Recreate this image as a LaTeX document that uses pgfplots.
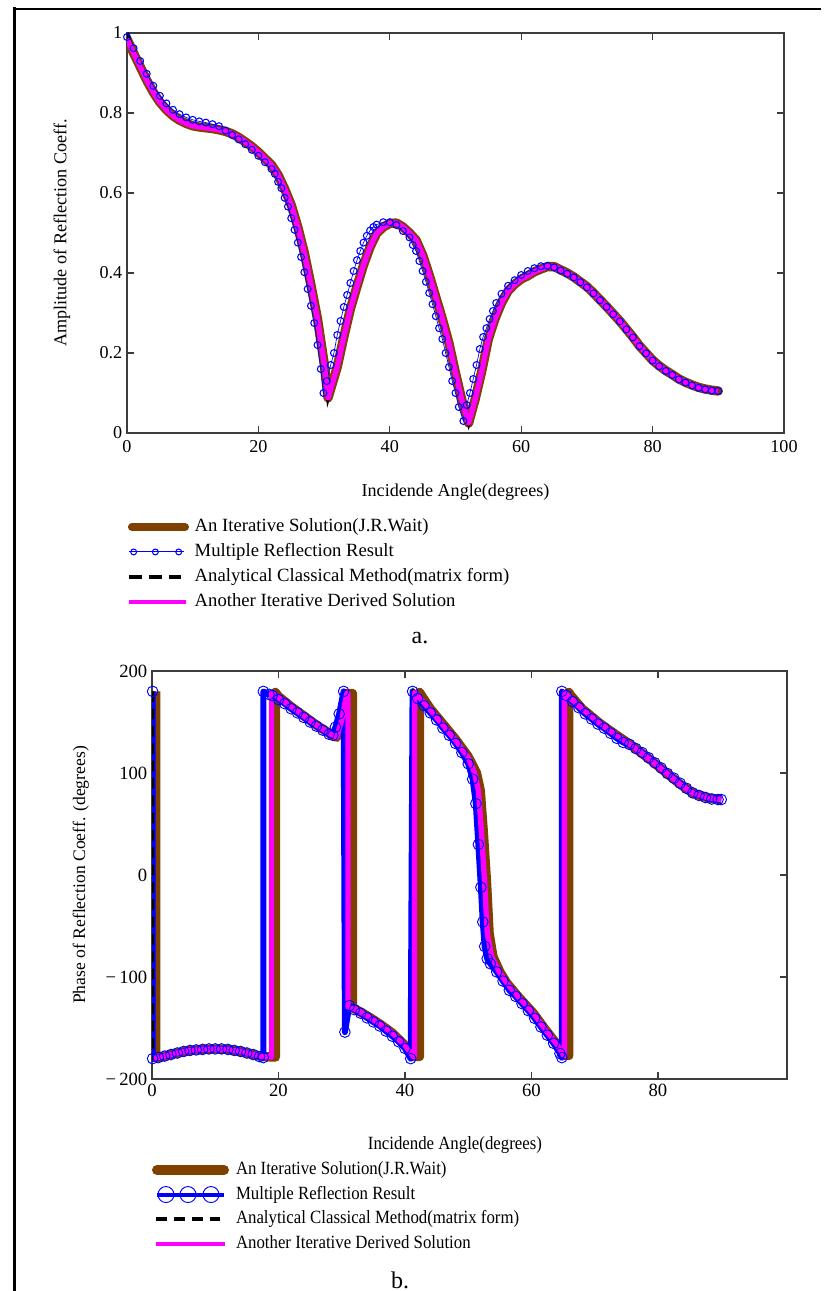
\documentclass[border=0pt]{standalone}
\usepackage{fontspec}
\setmainfont{Liberation Serif}
\newfontfamily\condfont{Liberation Serif}[FakeStretch=0.9]
\usepackage{pgfplots}
\usepackage{pgfplotstable}
\pgfplotsset{compat=1.18}
\definecolor{mcbrown}{RGB}{128,64,0}
\definecolor{mcblue}{RGB}{0,0,255}
\definecolor{mcmag}{RGB}{255,0,255}
\definecolor{axgray}{RGB}{60,60,60}

\pgfplotstableread{
x y
0 0.985
1 0.950
2 0.916
3 0.882
4 0.852
5 0.827
6 0.808
7 0.793
8 0.782
9 0.774
10 0.768
11 0.765
12 0.763
13 0.761
14 0.758
15 0.754
16 0.748
17 0.739
18 0.728
19 0.716
20 0.702
21 0.686
22 0.670
23 0.645
24 0.610
25 0.570
26 0.515
27 0.450
28 0.370
29 0.285
30 0.175
30.6 0.088
31 0.110
32 0.165
33 0.240
34 0.310
35 0.366
36 0.420
37 0.465
38 0.499
39 0.515
40 0.524
41 0.525
42 0.515
43 0.500
44 0.482
45 0.445
46 0.395
47 0.340
48 0.285
49 0.225
50 0.150
51 0.080
52 0.025
53 0.085
54 0.155
55 0.235
56 0.285
57 0.325
58 0.355
59 0.372
60 0.385
61 0.393
62 0.403
63 0.410
64 0.416
65 0.416
66 0.408
67 0.400
68 0.390
69 0.378
70 0.366
71 0.350
72 0.333
73 0.316
74 0.298
75 0.280
76 0.260
77 0.240
78 0.218
79 0.200
80 0.182
81 0.168
82 0.156
83 0.146
84 0.135
85 0.127
86 0.120
87 0.114
88 0.110
89 0.107
90 0.105
}\ampline

\pgfplotstableread{
x y
0 1.0
1 0.950
2 0.916
3 0.882
4 0.852
5 0.827
6 0.808
7 0.793
8 0.782
9 0.774
10 0.768
11 0.765
12 0.763
13 0.761
14 0.758
15 0.754
16 0.748
17 0.739
18 0.728
19 0.716
20 0.702
21 0.686
22 0.670
23 0.645
24 0.610
25 0.570
26 0.515
27 0.450
28 0.370
29 0.285
30 0.175
30.6 0.088
31 0.110
32 0.165
33 0.240
34 0.310
35 0.366
36 0.420
37 0.465
38 0.499
39 0.515
40 0.524
41 0.525
42 0.515
43 0.500
44 0.482
45 0.445
46 0.395
47 0.340
48 0.285
49 0.225
50 0.150
51 0.080
52 0.025
53 0.085
54 0.155
55 0.235
56 0.285
57 0.325
58 0.355
59 0.372
60 0.385
61 0.393
62 0.403
63 0.410
64 0.416
65 0.416
66 0.408
67 0.400
68 0.390
69 0.378
70 0.366
71 0.350
72 0.333
73 0.316
74 0.298
75 0.280
76 0.260
77 0.240
78 0.218
79 0.200
80 0.182
81 0.168
82 0.156
83 0.146
84 0.135
85 0.127
86 0.120
87 0.114
88 0.110
89 0.107
90 0.105
}\ampblack

\pgfplotstableread{
x y
0 0.990
1 0.962
2 0.930
3 0.898
4 0.868
5 0.843
6 0.824
7 0.808
8 0.797
9 0.789
10 0.783
11 0.779
12 0.776
13 0.772
14 0.767
15 0.756
16 0.745
17 0.734
18 0.722
19 0.708
20 0.693
21 0.677
22 0.660
22.5 0.648
23 0.628
23.5 0.612
24 0.588
24.5 0.566
25 0.537
25.5 0.508
26 0.476
26.5 0.440
27 0.402
27.5 0.360
28 0.318
28.5 0.275
29 0.220
29.5 0.160
29.9 0.100
30.4 0.130
31 0.170
31.5 0.200
32 0.245
32.5 0.280
33 0.315
33.5 0.345
34 0.375
34.5 0.405
35 0.432
35.5 0.455
36 0.476
36.5 0.493
37 0.506
37.5 0.515
38 0.521
39 0.527
40 0.527
41 0.520
42 0.505
43 0.489
43.5 0.470
44 0.455
44.5 0.430
45 0.405
45.5 0.378
46 0.350
46.5 0.322
47 0.292
47.5 0.262
48 0.235
48.5 0.200
49 0.165
49.5 0.130
50 0.100
50.5 0.065
51.2 0.030
51.7 0.070
52.2 0.100
52.7 0.135
53.2 0.170
53.7 0.210
54.2 0.240
54.7 0.262
55.2 0.285
55.7 0.305
56.2 0.325
57 0.348
58 0.368
59 0.382
60 0.395
61 0.405
62 0.412
63 0.417
64 0.418
65 0.414
66 0.406
67 0.398
68 0.389
69 0.377
70 0.364
71 0.349
72 0.332
73 0.315
74 0.297
75 0.279
76 0.259
77 0.239
78 0.217
79 0.199
80 0.181
81 0.167
82 0.155
83 0.145
84 0.134
85 0.126
86 0.119
87 0.113
88 0.109
89 0.106
90 0.105
}\ampblue

\pgfplotstableread{
x y
0.6 180
0.6 -179.5
1 -179
2 -177.5
4 -174.5
6 -172
8 -171
10 -170.5
12 -171
14 -173
16 -176
17.5 -178
19.5 -178.5
19.5 179
20 175
22 165
24 156
26 147
28 139
29.2 135
30 152
30.8 178
31.7 178
31.7 -130
32 -131
34 -138
36 -146
38 -155
40 -167
41.3 -178
42.3 -178
42.3 179
42.6 176
44 163
46 148
48 133
50 116
51.3 100
51.9 83
52.4 41
52.9 -8
53.3 -57
53.9 -80
55 -95
56.1 -106
58 -120
60.3 -135.6
62 -150
64 -166
65.1 -177
65.9 -177
65.9 179
66.2 176
68 163
70.8 148.7
73 139
76.1 125.8
79 112
81.4 99.7
83.5 89
85.6 80
88 75.5
90 74
}\phbrown

\pgfplotstableread{
x y
0.1 180
0.1 -180
1 -179
2 -177.5
3 -176
4 -174.5
5 -173
6 -172
7 -171.5
8 -171
9 -170.5
10 -170.5
11 -170.5
12 -171
13 -172
14 -173
15 -174.5
16 -176
17 -178
17.6 -179
17.6 180
18.5 177
19 176
20 172
21 168
22 163
23 159
24 154.5
25 150
26 146
27 142
28 138
28.6 137
29 145
29.6 158
30.3 180
30.5 -154
31.2 -128
32 -132
33 -135.5
34 -140
35 -144
36 -148
37 -153
38 -158
39 -163.5
40 -170
40.9 -180
41.2 180
42 173
43 166
44 159
45 152
46 144
47 137
48 129
49 120
50 109
50.7 94
51.2 70
51.6 30
52.0 -12
52.3 -46
52.6 -70
53.0 -82
53.5 -87
54.5 -95
55.5 -104
56.5 -113
57.5 -119
58.5 -126
59.5 -133
60.5 -140.5
61.5 -149
62.5 -157
63.5 -165
64.5 -175
64.8 -179
64.8 180
65.5 176
66.5 170
67.5 164
68.5 158
69.5 153
70.5 148
71.5 144
72.5 139
73.5 134
74.5 130
75.5 128
76.5 124
77.5 120
78.5 115
79.5 110
80.5 105
81.5 99.5
82.5 95
83.5 90
84.5 85
85.5 80.5
86.5 78
87.5 76
88.5 74.5
89.5 74
90 74
}\phblue

\pgfplotstableread{
x y
0 180
0 -179.5
1 -179
2 -177.5
4 -174.5
6 -172
8 -171
10 -170.5
12 -171
14 -173
16 -176
17.5 -178
18.9 -178.5
18.9 179
20 174
22 165
24 156
26 147
28 139
29.2 135
30 152
30.8 178
31 178
31 -130
32 -131
34 -138
36 -146
38 -155
40 -167
41.3 -178
41.5 -178
41.5 179
42 176
44 162
46 147
48 132
50 115
51 100
51.6 83
52.1 41
52.6 -8
53 -57
53.7 -80
55 -96
56.1 -106
58 -120
60.3 -135.6
62 -150
64 -166
65.1 -177
65.2 -177
65.2 179
65.6 176.5
68 163
70.8 148.7
73 139
76.1 125.8
79 112
81.4 99.7
83.5 89
85.6 80
88 75.5
90 74
}\phblack

\pgfplotstableread{
x y
0.2 -179.5
1 -179
2 -177.5
4 -174.5
6 -172
8 -171
10 -170.5
12 -171
14 -173
16 -176
17.5 -178
18.9 -178.5
18.9 179
20 174
22 165
24 156
26 147
28 139
29.2 135
30 152
30.8 178
31 178
31 -130
32 -131
34 -138
36 -146
38 -155
40 -167
41.3 -178
41.5 -178
41.5 179
42 176
44 162
46 147
48 132
50 115
51 100
51.6 83
52.1 41
52.6 -8
53 -57
53.7 -80
55 -96
56.1 -106
58 -120
60.3 -135.6
62 -150
64 -166
65.1 -177
65.2 -177
65.2 179
65.6 176.5
68 163
70.8 148.7
73 139
76.1 125.8
79 112
81.4 99.7
83.5 89
85.6 80
88 75.5
90 74
}\phmag

\newcommand\fA{\fontsize{13.6pt}{16pt}\selectfont}
\newcommand\fL{\fontsize{14pt}{16pt}\selectfont}
\newcommand\fB{\condfont\fontsize{14pt}{16pt}\selectfont}

\pgfplotsset{
  mcaxis/.style={
    scale only axis,
    axis line style={draw=axgray, line width=1.1pt},
    tick style={draw=axgray, line width=1pt},
    tick align=inside,
    major tick length=5.25pt,
    /pgf/number format/assume math mode=true,
    ticklabel style={font=\fA},
    label style={font=\fA},
    legend cell align=left,
  }
}

\begin{document}
\begin{tikzpicture}
\useasboundingbox (0pt,0pt) rectangle (618pt,-968.25pt);
\draw[line width=2.25pt] (10.5pt,-5.5pt) -- (10.5pt,-968.25pt);
\draw[line width=1.6pt] (9.4pt,-6.75pt) -- (616pt,-6.75pt);

% ---------------- top plot ----------------
\begin{axis}[mcaxis,
  at={(95.25pt,-324.75pt)}, anchor=south west,
  width=492.75pt, height=300pt,
  xmin=0, xmax=100, ymin=0, ymax=1,
  xtick={0,20,40,60,80,100},
  ytick={0,0.2,0.4,0.6,0.8,1},
  yticklabels={0,0.2,0.4,0.6,0.8,1},
  xticklabel style={yshift=-2pt},
  xlabel={Incidende Angle(degrees)},
  ylabel={Amplitude of Reflection Coeff.},
  xlabel style={at={(axis description cs:0.5,-0.1475)}, anchor=center},
  ylabel style={at={(axis description cs:-0.099,0.5)}, anchor=center},
  legend style={at={(axis description cs:0,-0.2036)}, anchor=north west,
    draw=none, fill=none, inner sep=0pt, outer sep=0pt, row sep=0pt,
    font=\fL, column sep=4.3pt,
    nodes={inner sep=0pt, text height=13pt, text depth=5.75pt}},
]
\addplot[mcbrown, line width=7pt, line join=round, line cap=round,
  legend image code/.code={\draw[mcbrown, line width=6pt, line cap=round] (2.2pt,0pt) -- (42pt,0pt);}]
  table[x=x,y=y] {\ampline};
\addlegendentry{An Iterative Solution(J.R.Wait)}
\addplot[mcblue, line width=0.5pt, mark=o, mark size=2.6pt, mark options={line width=0.8pt},
  legend image code/.code={\draw[mcblue, line width=0.8pt] (0pt,0pt) -- (41pt,0pt);
     \draw[mcblue, line width=0.8pt, mark=o, mark size=2.2pt, only marks] plot coordinates {(3.5pt,0pt) (19.75pt,0pt) (37.3pt,0pt)};}]
  table[x=x,y=y] {\ampblue};
\addlegendentry{Multiple Reflection Result}
\addplot[black, line width=3pt, dash pattern=on 10pt off 5pt,
  legend image code/.code={\draw[black, line width=3pt, dash pattern=on 10pt off 5pt] (0pt,0pt) -- (39pt,0pt);}]
  table[x=x,y=y] {\ampblack};
\addlegendentry{Analytical Classical Method(matrix form)}
\addplot[mcmag, line width=4pt, line join=round,
  legend image code/.code={\draw[mcmag, line width=3pt] (0pt,0pt) -- (43pt,0pt);}]
  table[x=x,y=y] {\ampline};
\addlegendentry{Another Iterative Derived Solution}
\end{axis}

\node[font=\fontsize{18pt}{20pt}\selectfont] at (315pt,-478.5pt) {a.};

% ---------------- bottom plot ----------------
\begin{axis}[mcaxis,
  at={(114pt,-809.25pt)}, anchor=south west,
  width=476.25pt, height=306pt,
  xmin=0, xmax=100.4, ymin=-200, ymax=200,
  xtick={0,20,40,60,80},
  ytick={-200,-100,0,100,200},
  yticklabels={−\,200,−\,100,0,100,200},
  ticklabel style={font=\fontsize{14pt}{16pt}\selectfont},
  xlabel={Incidende Angle(degrees)},
  ylabel={Phase of Reflection Coeff. (degrees)},
  xlabel style={at={(axis description cs:0.477,-0.162)}, anchor=center, font=\fB},
  ylabel style={at={(axis description cs:-0.112,0.5)}, anchor=center, font=\fontsize{13.2pt}{16pt}\selectfont},
  legend style={at={(axis description cs:0,-0.193)}, anchor=north west,
    draw=none, fill=none, inner sep=0pt, outer sep=0pt, row sep=0pt,
    font=\fB, column sep=5.25pt,
    nodes={inner sep=0pt, text height=12.7pt, text depth=5.7pt}},
]
\addplot[mcbrown, line width=7pt, line join=round,
  legend image code/.code={\draw[mcbrown, line width=7.5pt, line cap=round] (2.25pt,0pt) -- (52.5pt,0pt);}]
  table[x=x,y=y] {\phbrown};
\addlegendentry{An Iterative Solution(J.R.Wait)}
\addplot[mcblue, line width=4.5pt, line join=round, mark=o, mark size=4pt, mark options={line width=0.7pt, solid},
  legend image code/.code={\draw[mcblue, line width=3pt] (2.25pt,0pt) -- (52.5pt,0pt);
     \draw[mcblue, line width=0.8pt, mark=o, mark size=6pt, only marks] plot coordinates {(9pt,0pt) (25.5pt,0pt) (42.75pt,0pt)};}]
  table[x=x,y=y] {\phblue};
\addlegendentry{Multiple Reflection Result}
\addplot[black, line width=3pt, dash pattern=on 8pt off 5pt,
  legend image code/.code={\draw[black, line width=3pt, dash pattern=on 8.25pt off 5.25pt] (1.5pt,0pt) -- (49.5pt,0pt);}]
  table[x=x,y=y] {\phblack};
\addlegendentry{Analytical Classical Method(matrix form)}
\addplot[mcmag, line width=4pt, line join=round,
  legend image code/.code={\draw[mcmag, line width=3pt] (1.5pt,0pt) -- (53.25pt,0pt);}]
  table[x=x,y=y] {\phmag};
\addlegendentry{Another Iterative Derived Solution}
\end{axis}

\node[font=\fontsize{18pt}{20pt}\selectfont] at (300pt,-960pt) {b.};
\end{tikzpicture}
\end{document}
